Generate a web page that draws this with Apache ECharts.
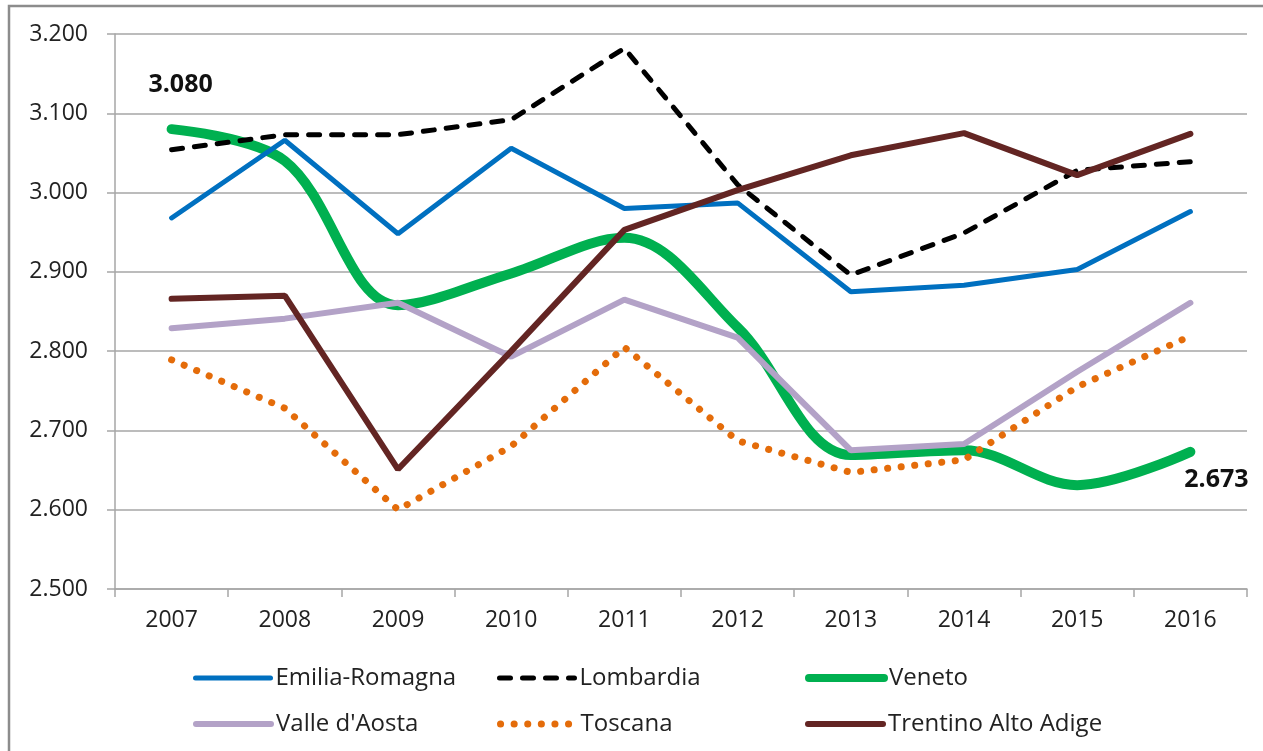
<!DOCTYPE html>
<html>
<head>
<meta charset="utf-8">
<script src="https://cdn.jsdelivr.net/npm/echarts@6/dist/echarts.min.js"></script>
<style>
  html, body { margin: 0; padding: 0; background: #fff; }
  #chart { width: 1263px; height: 751px; }
</style>
</head>
<body>
<div id="chart"></div>
<script>
// anni
var years = ['2007', '2008', '2009', '2010', '2011', '2012', '2013', '2014', '2015', '2016'];

// valori per regione (euro)
var emiliaRomagna = [2968, 3066, 2948, 3056, 2980, 2987, 2875, 2883, 2903, 2976];
var lombardia = [3054, 3073, 3073, 3092, 3182, 3010, 2896, 2949, 3028, 3039];
var veneto = [3080, 3040, 2858, 2898, 2943, 2830, 2669, 2675, 2631, 2673];
var valleAosta = [2829, 2841, 2861, 2793, 2865, 2817, 2675, 2683, 2774, 2861];
var toscana = [2789, 2728, 2600, 2680, 2805, 2687, 2647, 2663, 2755, 2819];
var trentino = [2866, 2870, 2651, 2800, 2953, 3003, 3047, 3075, 3022, 3074];

var regioni = ['Emilia-Romagna', 'Lombardia', 'Veneto', "Valle d'Aosta", 'Toscana', 'Trentino Alto Adige'];

// 3080 -> "3.080"
function fmt(v) {
  var s = String(Math.round(v));
  return s.slice(0, s.length - 3) + '.' + s.slice(s.length - 3);
}

var font = '"Open Sans", "Liberation Sans", sans-serif';

// stili linea, usati sia per le serie che per la legenda
var stili = {
  'Emilia-Romagna': { color: '#0070C0', width: 5, cap: 'round' },
  'Lombardia': { color: '#000000', width: 5, type: [11, 12], cap: 'round' },
  'Veneto': { color: '#00B050', width: 10, cap: 'round' },
  "Valle d'Aosta": { color: '#B3A2C7', width: 6, cap: 'round' },
  'Toscana': { color: '#E46C0A', width: 7, type: [0.1, 13.5], cap: 'round' },
  'Trentino Alto Adige': { color: '#632523', width: 6, cap: 'round' }
};

var chart = echarts.init(document.getElementById('chart'));

// legenda su due righe, tre colonne
var legendLeft = [188, 492, 800];
var legendTop = [661, 707];
var legends = regioni.map(function (n, i) {
  var st = stili[n];
  return {
    data: [n],
    left: legendLeft[i % 3],
    top: legendTop[Math.floor(i / 3)],
    itemWidth: 75,
    itemHeight: 14,
    itemStyle: { opacity: 0 },
    lineStyle: { color: st.color, width: Math.min(st.width, 8), type: st.type || 'solid', cap: 'round' },
    textStyle: { fontFamily: font, fontSize: 24, color: '#222' },
    selectedMode: false
  };
});

// etichette solo su primo e ultimo punto del Veneto
var venetoData = veneto.map(function (v, i) {
  if (i === 0) {
    return { value: v, label: { show: true, position: 'top', offset: [9, -26] } };
  }
  if (i === veneto.length - 1) {
    return { value: v, label: { show: true, position: 'bottom', offset: [26, 10] } };
  }
  return v;
});

function serie(nome, dati, z) {
  var st = stili[nome];
  return {
    name: nome, type: 'line', data: dati, z: z,
    symbol: 'none', color: st.color,
    lineStyle: st
  };
}

var veneta = serie('Veneto', venetoData, 2);
veneta.symbol = 'circle';
veneta.symbolSize = 1;
veneta.showSymbol = true;
veneta.smooth = 0.35;
veneta.label = {
  show: false,
  fontFamily: font, fontSize: 25, fontWeight: 'bold', color: '#111',
  formatter: function (p) { return fmt(p.value); }
};

chart.setOption({
  animation: false,
  backgroundColor: '#fff',
  legend: legends,
  grid: { left: 115, right: 16, top: 34, bottom: 162 },
  xAxis: {
    type: 'category',
    data: years,
    boundaryGap: true,
    axisLine: { lineStyle: { color: '#a6a6a6', width: 1.5 } },
    axisTick: { show: true, length: 8, interval: 0, lineStyle: { color: '#a6a6a6', width: 1.5 } },
    axisLabel: { margin: 20, fontFamily: font, fontSize: 23, color: '#222' }
  },
  yAxis: {
    type: 'value',
    min: 2500,
    max: 3200,
    interval: 100,
    axisLine: { show: true, lineStyle: { color: '#a6a6a6', width: 1.5 } },
    axisTick: { show: true, length: 8, lineStyle: { color: '#a6a6a6', width: 1.5 } },
    splitLine: { lineStyle: { color: '#a6a6a6', width: 1.5 } },
    axisLabel: { margin: 27, fontFamily: font, fontSize: 23, color: '#222', formatter: fmt }
  },
  series: [
    serie('Emilia-Romagna', emiliaRomagna, 3),
    serie('Lombardia', lombardia, 3),
    veneta,
    serie("Valle d'Aosta", valleAosta, 3),
    serie('Toscana', toscana, 3),
    serie('Trentino Alto Adige', trentino, 3)
  ],
  graphic: [
    {
      type: 'polyline',
      shape: { points: [[9, 751], [9, 6], [1263, 6]] },
      style: { stroke: '#8c8c8c', lineWidth: 2.5, fill: null },
      silent: true
    }
  ]
});
</script>
</body>
</html>
